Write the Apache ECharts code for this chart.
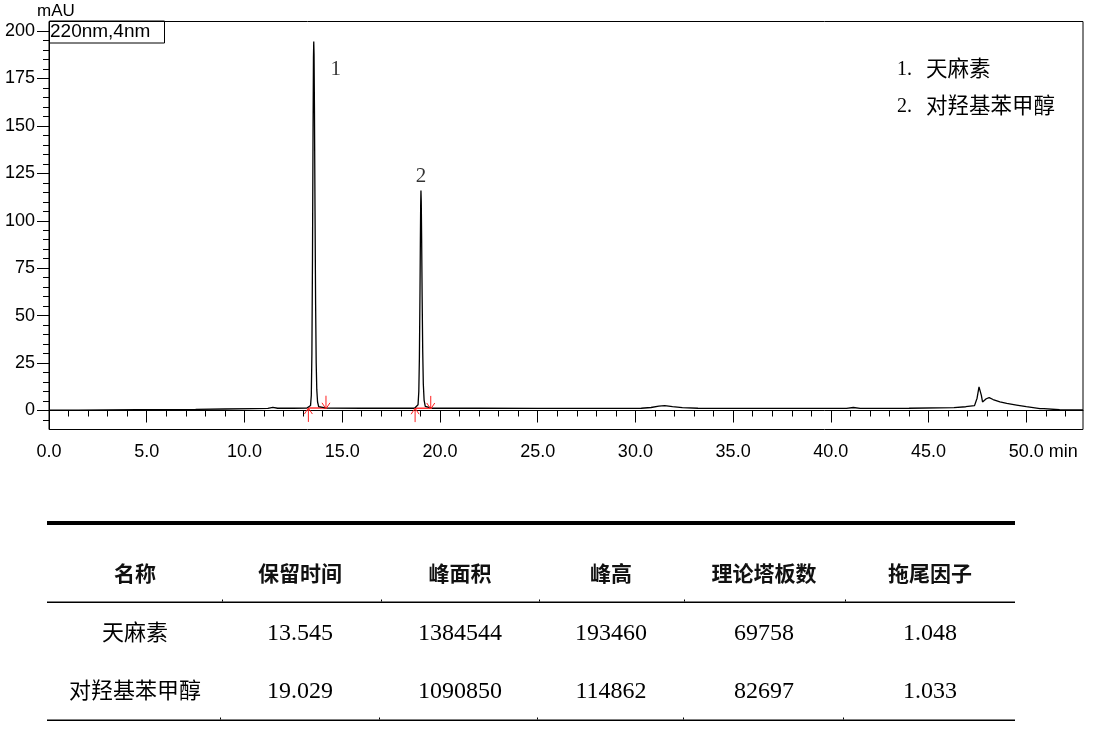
<!DOCTYPE html>
<html><head><meta charset="utf-8">
<script src="https://cdn.jsdelivr.net/npm/echarts@6/dist/echarts.min.js"></script>
<style>html,body{margin:0;padding:0;background:#fff;}#c{width:1093px;height:729px;}</style>
</head><body><div id="c"></div>
<script>
// ---- chromatogram (time in min, absorbance in mAU) ----
const timeMin = [0,1.5,3,4.5,6,7.5,9,10.5,11.2,11.45,11.7,12.5,13.2,13.3,13.38,13.42,13.45,13.48,13.51,13.53,13.545,13.56,13.58,13.61,13.64,13.67,13.70,13.74,13.80,13.90,14.2,16,18,18.7,18.8,18.88,18.92,18.95,18.98,19.00,19.015,19.029,19.045,19.065,19.09,19.12,19.15,19.19,19.25,19.35,19.6,22,25,28,30.3,30.8,31.2,31.5,31.9,32.4,33.2,35,38,40.8,41.15,41.5,44,46.3,46.9,47.35,47.48,47.58,47.64,47.70,47.76,47.85,47.95,48.1,48.3,48.65,49.0,49.5,50.0,50.35,50.7,50.8,50.9,51.0,51.7,52.3,52.9];
const absorbance = [0.2,0.2,0.3,0.4,0.5,0.6,0.8,1.0,1.1,1.7,1.2,1.2,1.3,1.4,2.6,8,30,80,150,186,194.5,188,160,105,56,25,11,4.5,2.0,1.4,1.3,1.2,1.2,1.2,1.3,3,10,28,62,90,108,116,110,90,60,31,14,5.5,2.2,1.4,1.2,1.2,1.1,1.1,1.2,1.6,2.3,2.6,2.1,1.5,1.2,1.1,1.1,1.1,1.6,1.1,1.2,1.5,2.0,2.6,6.5,12.5,12.6,8,4.5,4.8,6.2,6.8,5.8,4.6,3.8,2.9,2.0,1.5,1.0,1.7,1.0,0.6,0.4,0.3,0.3];

// integration: peak start / end times and baseline levels
const peakStartTime = [13.27, 18.73];
const peakEndTime = [14.17, 19.53];
const integBaseline = [1.3, 1.2];

// peak numbers at apex
const peakNumbers = ['1', '2'];
const peakApexTime = [13.545, 19.029];
const peakApexHeight = [194.5, 116];

// axis ticks
const xMajorTicks = [0,5,10,15,20,25,30,35,40,45,50];
const xMinorTicks = [1,2,3,4,6,7,8,9,11,12,13,14,16,17,18,19,21,22,23,24,26,27,28,29,31,32,33,34,36,37,38,39,41,42,43,44,46,47,48,49,51,52];
const yMajorTicks = [0,25,50,75,100,125,150,175,200];
const yMinorTicks = [-5,5,10,15,20,30,35,40,45,55,60,65,70,80,85,90,95,105,110,115,120,130,135,140,145,155,160,165,170,180,185,190,195];

// legend / table text
const compoundNames = ['天麻素', '对羟基苯甲醇'];
const tableHeaders = ['名称', '保留时间', '峰面积', '峰高', '理论塔板数', '拖尾因子'];
const retentionTimes = ['13.545', '19.029'];
const peakAreas = ['1384544', '1090850'];
const peakHeights = ['193460', '114862'];
const theoreticalPlates = ['69758', '82697'];
const tailingFactors = ['1.048', '1.033'];

// ---- build ----
const chart = echarts.init(document.getElementById('c'), null, {renderer: 'canvas'});
const SANS = "'Liberation Sans', Arial, sans-serif";
const SERIF = "'Liberation Serif', 'Noto Sans CJK SC', serif";
const CJK = "'Noto Sans CJK SC', sans-serif";

const lineData = timeMin.map((t, i) => [t, absorbance[i]]);
const integData = [];
peakStartTime.forEach((s, i) => {
  integData.push([s, integBaseline[i]], [peakEndTime[i], integBaseline[i]], '-');
});
const arrowData = [];
peakStartTime.forEach((s, i) => {
  arrowData.push([s, integBaseline[i], integBaseline[i] - 7.3]);
  arrowData.push([peakEndTime[i], integBaseline[i] - 0.4, integBaseline[i] + 6.5]);
});
const labelOffsets = [[22, 28], [0, -14]];
const peakLabelData = peakNumbers.map((n, i) => ({
  name: n, value: [peakApexTime[i], peakApexHeight[i]],
  label: {offset: labelOffsets[i]}
}));

const graphics = [];
graphics.push({type: 'text', left: 37, top: 3, style: {text: 'mAU', font: "17px " + SANS, fill: '#000'}});
graphics.push({type: 'rect', shape: {x: 49.5, y: 21, width: 115, height: 22}, style: {fill: 'none', stroke: '#000', lineWidth: 1}});
graphics.push({type: 'text', x: 50, y: 32, style: {text: '220nm,4nm', font: "19px " + SANS, fill: '#000', textVerticalAlign: 'middle', verticalAlign: 'middle'}});
// legend
compoundNames.forEach((n, i) => {
  const y = 70 + i * 37;
  graphics.push({type: 'text', x: 897, y: y, style: {text: (i + 1) + '.', font: "20px " + SERIF, fill: '#000', verticalAlign: 'middle', textVerticalAlign: 'middle'}});
  graphics.push({type: 'text', x: 926, y: y, style: {text: n, font: "21.5px " + SERIF, fill: '#000', verticalAlign: 'middle', textVerticalAlign: 'middle'}});
});
// table
const colX = [135, 300, 460, 611, 764, 930];
graphics.push({type: 'rect', shape: {x: 47, y: 521, width: 968, height: 4}, style: {fill: '#000'}});
graphics.push({type: 'rect', shape: {x: 47, y: 601.5, width: 968, height: 1.5}, style: {fill: '#000'}});
graphics.push({type: 'rect', shape: {x: 47, y: 719.5, width: 968, height: 1.5}, style: {fill: '#000'}});
[222, 381, 539, 684, 845].forEach(x => graphics.push({type: 'rect', shape: {x: x, y: 599.5, width: 1, height: 2}, style: {fill: '#000'}}));
[220, 379, 537, 683, 843].forEach(x => graphics.push({type: 'rect', shape: {x: x, y: 717.5, width: 1, height: 2}, style: {fill: '#000'}}));
tableHeaders.forEach((h, i) => {
  graphics.push({type: 'text', x: colX[i], y: 573, style: {text: h, font: "bold 21px " + CJK, fill: '#111', align: 'center', textAlign: 'center', verticalAlign: 'middle', textVerticalAlign: 'middle'}});
});
compoundNames.forEach((n, r) => {
  const y = 634 + r * 58;
  const cells = [n, retentionTimes[r], peakAreas[r], peakHeights[r], theoreticalPlates[r], tailingFactors[r]];
  cells.forEach((c, i) => {
    const f = i === 0 ? "22px " + SERIF : "24px " + SERIF;
    graphics.push({type: 'text', x: colX[i], y: y, style: {text: c, font: f, fill: '#000', align: 'center', textAlign: 'center', verticalAlign: 'middle', textVerticalAlign: 'middle'}});
  });
});

const axisLbl = {fontFamily: SANS, fontSize: 18, color: '#000'};
const option = {
  animation: false,
  backgroundColor: '#fff',
  grid: {left: 49, right: 10, top: 21.5, bottom: 299.5, show: true, borderColor: '#000', borderWidth: 1, backgroundColor: 'transparent'},
  xAxis: [
    {type: 'value', min: 0, max: 52.9, position: 'bottom',
     axisLine: {show: true, lineStyle: {color: '#000', width: 1}},
     axisTick: {show: true, length: 12, customValues: xMajorTicks, lineStyle: {color: '#000'}},
     axisLabel: Object.assign({}, axisLbl, {customValues: xMajorTicks, margin: 14,
       formatter: v => v === 50 ? '{p|}50.0 min' : v.toFixed(1),
       rich: {p: {width: 34}}}),
     splitLine: {show: false}},
    {type: 'value', min: 0, max: 52.9, position: 'bottom', offset: 0,
     axisLine: {show: false},
     axisTick: {show: true, length: 6, customValues: xMinorTicks, lineStyle: {color: '#000'}},
     axisLabel: {show: false}, splitLine: {show: false}}
  ],
  yAxis: [
    {type: 'value', min: -10, max: 205, position: 'left',
     axisLine: {show: true, lineStyle: {color: '#000', width: 1}},
     axisTick: {show: true, length: 12, customValues: yMajorTicks, lineStyle: {color: '#000'}},
     axisLabel: Object.assign({}, axisLbl, {customValues: yMajorTicks, margin: 14, formatter: v => String(v)}),
     splitLine: {show: false}},
    {type: 'value', min: -10, max: 205, position: 'left', offset: 0,
     axisLine: {show: false},
     axisTick: {show: true, length: 6, customValues: yMinorTicks, lineStyle: {color: '#000'}},
     axisLabel: {show: false}, splitLine: {show: false}}
  ],
  series: [
    {type: 'line', name: 'chromatogram', data: lineData, symbol: 'none', showSymbol: false,
     lineStyle: {color: '#000', width: 1.3}, clip: true, z: 3},
    {type: 'line', name: 'integration', data: integData, symbol: 'none', connectNulls: false,
     lineStyle: {color: '#ff3030', width: 1.5}, z: 2},
    {type: 'custom', name: 'markers', data: arrowData, encode: {x: 0, y: 1}, clip: false, z: 4,
     renderItem: function (params, api) {
       const tip = api.coord([api.value(0), api.value(1)]);
       const tail = api.coord([api.value(0), api.value(2)]);
       const dir = tail[1] > tip[1] ? 1 : -1;
       return {type: 'group', children: [
         {type: 'line', shape: {x1: tip[0], y1: tip[1], x2: tail[0], y2: tail[1]}, style: {stroke: '#ff2020', lineWidth: 1}},
         {type: 'polyline', shape: {points: [[tip[0] - 4, tip[1] + dir * 6], [tip[0], tip[1]], [tip[0] + 4, tip[1] + dir * 6]]}, style: {stroke: '#ff2020', fill: null, lineWidth: 1}}
       ]};
     }},
    {type: 'scatter', name: 'peakno', data: peakLabelData, symbolSize: 0, z: 5,
     label: {show: true, position: 'inside', formatter: p => p.name, fontFamily: SERIF, fontSize: 21, color: '#000'}}
  ],
  graphic: graphics
};
chart.setOption(option);
</script></body></html>
